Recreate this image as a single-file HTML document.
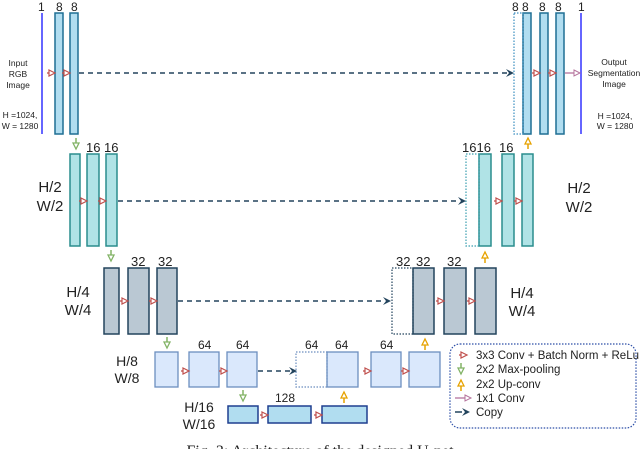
<!DOCTYPE html>
<html><head><meta charset="utf-8"><style>
body{margin:0;background:#fff}
svg{display:block}
text{font-family:"Liberation Sans",Arial,sans-serif;fill:#222}
</style></head><body>
<svg width="640" height="449" viewBox="0 0 640 449" xmlns="http://www.w3.org/2000/svg">
<defs>
<g id="cv"><line x1="-7" y1="0" x2="-2" y2="0" stroke="#c0504d" stroke-width="1.3"/><path d="M-5,-3 L1,0 L-5,3 Z" fill="#fff" stroke="#c0504d" stroke-width="1.2"/></g>
<g id="mp"><line x1="0" y1="-6" x2="0" y2="0" stroke="#82b366" stroke-width="1.5"/><path d="M-3,-1 L0,5 L3,-1 Z" fill="#fff" stroke="#82b366" stroke-width="1.3"/></g>
<g id="up"><line x1="0" y1="0" x2="0" y2="6" stroke="#e6a200" stroke-width="1.5"/><path d="M-3,1 L0,-5 L3,1 Z" fill="#fff" stroke="#e6a200" stroke-width="1.3"/></g>
<g id="cp"><path d="M-8,-4 L0,0 L-8,4 L-5,0 Z" fill="#23445d"/></g>
</defs>

<!-- Level 1 -->
<g font-size="12">
<text x="38" y="11">1</text><text x="56" y="11">8</text><text x="71" y="11">8</text>
<text x="512" y="11">8</text><text x="522" y="11">8</text><text x="539" y="11">8</text><text x="555" y="11">8</text><text x="578" y="11">1</text>
</g>
<line x1="42" y1="13" x2="42" y2="134" stroke="#3333ff" stroke-width="1.5"/>
<g fill="#b1ddf0" stroke="#1f6f94" stroke-width="1.5">
<rect x="55" y="13" width="8" height="121"/><rect x="70" y="13" width="8" height="121"/>
<rect x="523" y="13" width="8" height="121"/><rect x="540" y="13" width="8" height="121"/><rect x="556" y="13" width="8" height="121"/>
</g>
<rect x="514" y="13" width="9" height="121" fill="none" stroke="#3c8fc0" stroke-width="1.2" stroke-dasharray="1.5,1.5"/>
<line x1="581" y1="13" x2="581" y2="134" stroke="#3333ff" stroke-width="1.5"/>
<g font-size="8.5" text-anchor="middle"><text x="18" y="66">Input</text><text x="18" y="77">RGB</text><text x="18" y="88">Image</text>
<text x="20" y="118">H =1024,</text><text x="20" y="129">W = 1280</text>
<text x="614" y="65">Output</text><text x="614" y="76">Segmentation</text><text x="614" y="87">Image</text>
<text x="615" y="119">H =1024,</text><text x="615" y="129">W = 1280</text></g>
<line x1="79" y1="73" x2="508" y2="73" stroke="#23445d" stroke-width="1.5" stroke-dasharray="5,4"/>
<use href="#cp" x="514" y="73"/>
<use href="#cv" x="54" y="73"/><use href="#cv" x="69" y="73"/><use href="#cv" x="539" y="73"/><use href="#cv" x="555" y="73"/>
<line x1="565" y1="73" x2="577" y2="73" stroke="#b5739d" stroke-width="1.3"/><path d="M574,70 L580,73 L574,76 Z" fill="#fff" stroke="#b5739d"/>
<use href="#mp" x="76" y="144"/><use href="#up" x="528" y="143"/>

<!-- Level 2 -->
<g font-size="13"><text x="86" y="152">16</text><text x="104" y="152">16</text>
<text x="462" y="152">1616</text><text x="499" y="152">16</text></g>
<g fill="#b0e3e6" stroke="#2a8d8d" stroke-width="1.5">
<rect x="70" y="154" width="10" height="92"/><rect x="87" y="154" width="12" height="92"/><rect x="106" y="154" width="11" height="92"/>
<rect x="479" y="154" width="12" height="92"/><rect x="502" y="154" width="12" height="92"/><rect x="522" y="154" width="11" height="92"/>
</g>
<rect x="466" y="154" width="13" height="92" fill="none" stroke="#3c9fb0" stroke-width="1.2" stroke-dasharray="1.5,1.5"/>
<g font-size="15" text-anchor="middle"><text x="50" y="192">H/2</text><text x="50" y="211">W/2</text>
<text x="579" y="193">H/2</text><text x="579" y="212">W/2</text></g>
<line x1="118" y1="201" x2="460" y2="201" stroke="#23445d" stroke-width="1.5" stroke-dasharray="5,4"/>
<use href="#cp" x="466" y="201"/>
<use href="#cv" x="86" y="201"/><use href="#cv" x="105" y="201"/><use href="#cv" x="501" y="201"/><use href="#cv" x="521" y="201"/>
<use href="#mp" x="111" y="256"/><use href="#up" x="485" y="257"/>

<!-- Level 3 -->
<g font-size="13"><text x="131" y="266">32</text><text x="158" y="266">32</text>
<text x="396" y="266">32</text><text x="416" y="266">32</text><text x="447" y="266">32</text></g>
<g fill="#bac8d3" stroke="#23445d" stroke-width="1.5">
<rect x="104" y="268" width="15" height="66"/><rect x="128" y="268" width="21" height="66"/><rect x="157" y="268" width="20" height="66"/>
<rect x="413" y="268" width="21" height="66"/><rect x="444" y="268" width="22" height="66"/><rect x="475" y="268" width="21" height="66"/>
</g>
<rect x="392" y="268" width="21" height="66" fill="none" stroke="#23445d" stroke-width="1.2" stroke-dasharray="1.5,1.5"/>
<g font-size="15" text-anchor="middle"><text x="78" y="297">H/4</text><text x="78" y="315">W/4</text>
<text x="522" y="298">H/4</text><text x="522" y="316">W/4</text></g>
<line x1="178" y1="301" x2="384" y2="301" stroke="#23445d" stroke-width="1.5" stroke-dasharray="5,4"/>
<use href="#cp" x="391" y="301"/>
<use href="#cv" x="127" y="301"/><use href="#cv" x="156" y="301"/><use href="#cv" x="443" y="301"/><use href="#cv" x="474" y="301"/>
<use href="#mp" x="167" y="343"/><use href="#up" x="425" y="344"/>

<!-- Level 4 -->
<g font-size="12"><text x="198" y="349">64</text><text x="236" y="349">64</text>
<text x="305" y="349">64</text><text x="335" y="349">64</text><text x="380" y="349">64</text></g>
<g fill="#dae8fc" stroke="#6c8ebf" stroke-width="1.3">
<rect x="155" y="352" width="23" height="35"/><rect x="189" y="352" width="30" height="35"/><rect x="227" y="352" width="30" height="35"/>
<rect x="327" y="352" width="31" height="35"/><rect x="371" y="352" width="30" height="35"/><rect x="409" y="352" width="31" height="35"/>
</g>
<rect x="296" y="352" width="31" height="35" fill="none" stroke="#6c8ebf" stroke-width="1.2" stroke-dasharray="1.5,1.5"/>
<g font-size="14" text-anchor="middle"><text x="127" y="366">H/8</text><text x="127" y="383">W/8</text></g>
<line x1="258" y1="371" x2="290" y2="371" stroke="#23445d" stroke-width="1.5" stroke-dasharray="5,4"/>
<use href="#cp" x="297" y="371"/>
<use href="#cv" x="188" y="371"/><use href="#cv" x="226" y="371"/><use href="#cv" x="370" y="371"/><use href="#cv" x="408" y="371"/>
<use href="#mp" x="243" y="396"/><use href="#up" x="344" y="397"/>

<!-- Level 5 -->
<text x="275" y="402" font-size="12">128</text>
<g fill="#b1ddf0" stroke="#1f3f8f" stroke-width="1.5">
<rect x="228" y="406" width="30" height="17"/><rect x="268" y="406" width="43" height="17"/><rect x="322" y="406" width="45" height="17"/>
</g>
<g font-size="14" text-anchor="middle"><text x="199" y="412">H/16</text><text x="199" y="429">W/16</text></g>
<use href="#cv" x="267" y="415"/><use href="#cv" x="321" y="415"/>

<!-- Legend -->
<rect x="450" y="344" width="186" height="84" rx="10" fill="none" stroke="#2d4fa8" stroke-width="1.2" stroke-dasharray="1.5,1.5"/>
<use href="#cv" x="466" y="355"/>
<use href="#mp" x="461" y="369"/>
<use href="#up" x="461" y="385"/>
<line x1="455" y1="398" x2="468" y2="398" stroke="#b5739d" stroke-width="1.3"/><path d="M465,395 L471,398 L465,401 Z" fill="#fff" stroke="#b5739d"/>
<line x1="455" y1="412" x2="462" y2="412" stroke="#23445d" stroke-width="1.5"/><use href="#cp" x="470" y="412"/>
<g font-size="11.5"><text x="476" y="359">3x3 Conv + Batch Norm + ReLu</text>
<text x="476" y="373">2x2 Max-pooling</text><text x="476" y="388">2x2 Up-conv</text>
<text x="476" y="402">1x1 Conv</text><text x="476" y="416">Copy</text></g>

<text x="320" y="456" font-size="16" text-anchor="middle" style="font-family:'Liberation Serif',serif">Fig. 3: Architecture of the designed U-net</text>
</svg>
</body></html>
